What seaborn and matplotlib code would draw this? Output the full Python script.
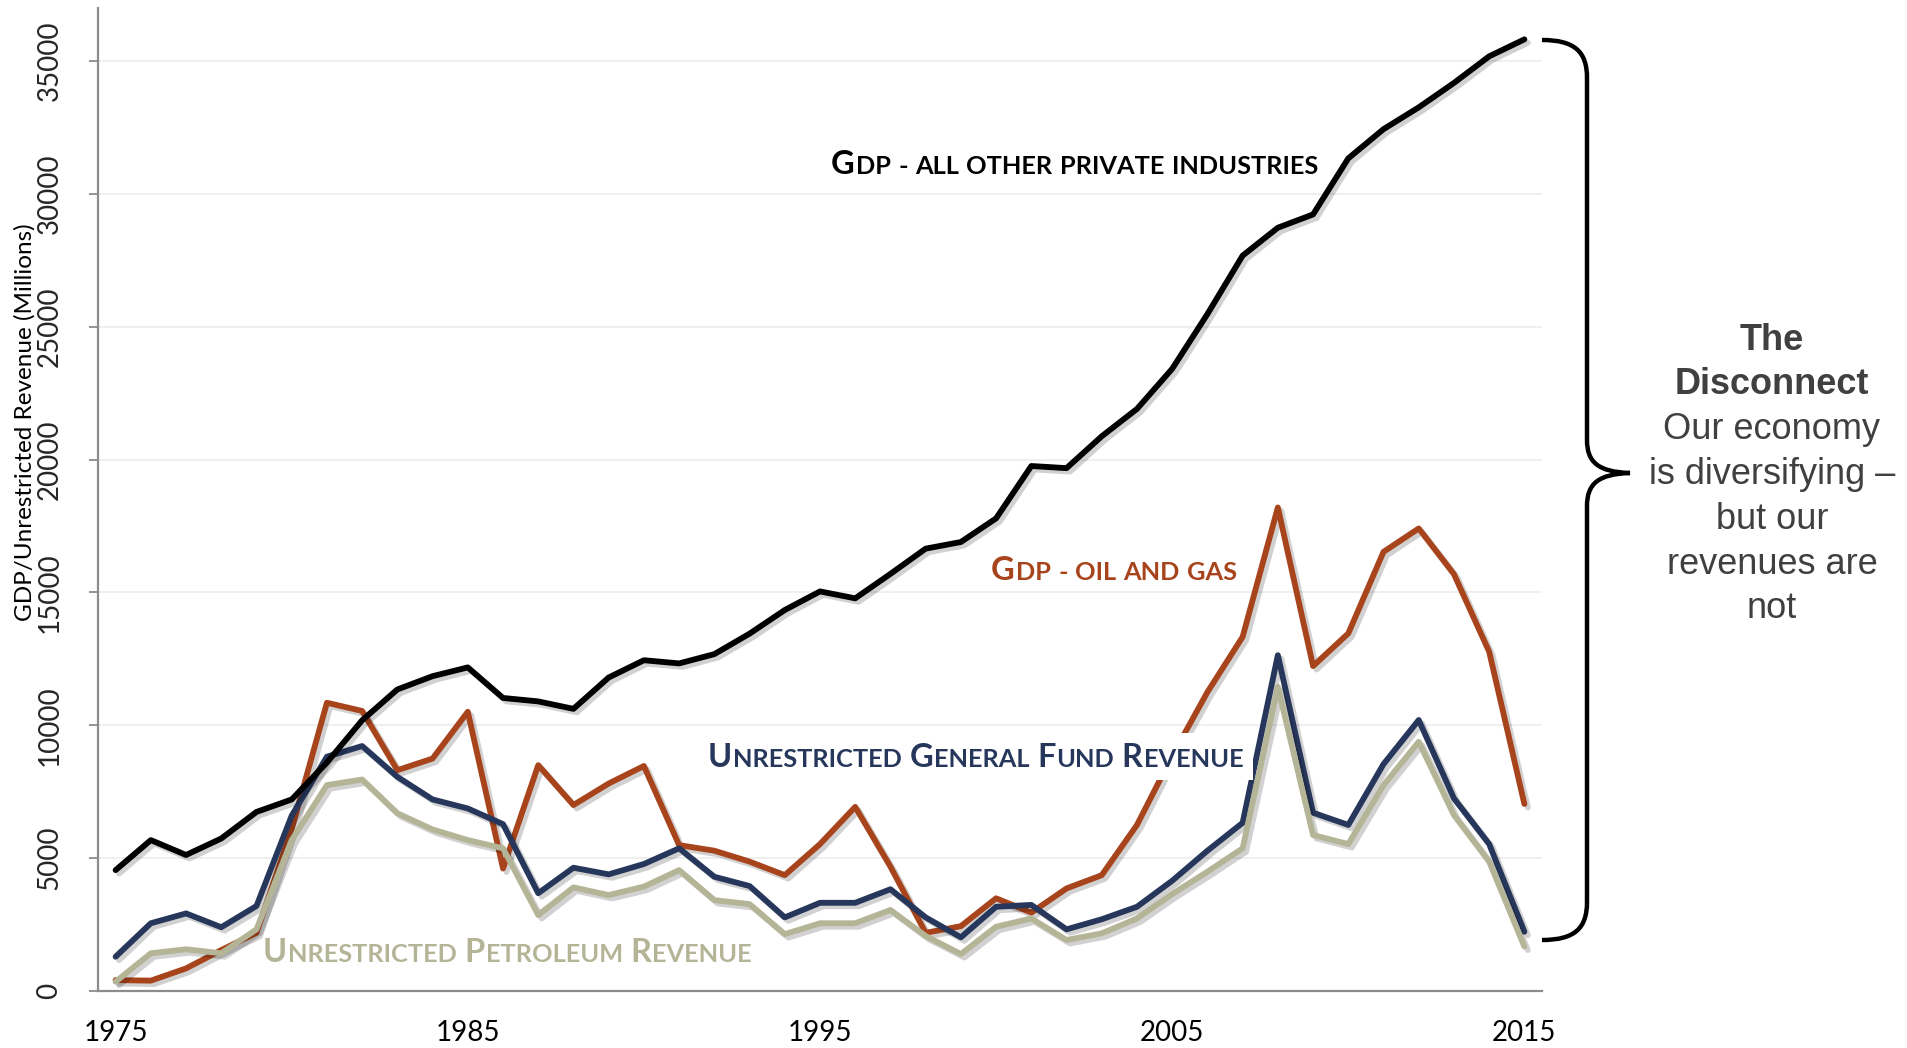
import matplotlib
matplotlib.use("Agg")
import matplotlib.pyplot as plt
import matplotlib.patheffects as pe
from matplotlib.path import Path
from matplotlib.patches import PathPatch, Rectangle
import numpy as np
import pandas as pd
import seaborn as sns

# ---------------- data ----------------
years = list(range(1975, 2016))
gdp_other = [4550, 5680, 5120, 5740, 6740, 7210, 8600, 10190, 11350, 11850,
             12180, 11030, 10900, 10620, 11800, 12450, 12330, 12680, 13450, 14340,
             15040, 14780, 15700, 16650, 16900, 17790, 19760, 19680, 20880, 21910,
             23420, 25480, 27680, 28730, 29230, 31340, 32440, 33260, 34180, 35180,
             35820]
gdp_oil = [410, 390, 850, 1540, 2190, 6100, 10850, 10540, 8310, 8750,
           10510, 4610, 8500, 7000, 7810, 8470, 5490, 5280, 4870, 4360,
           5530, 6930, 4680, 2190, 2440, 3490, 2950, 3860, 4360, 6250,
           8850, 11250, 13330, 18200, 12230, 13460, 16530, 17410, 15690, 12770,
           7040]
unres_gf = [1290, 2550, 2920, 2400, 3200, 6600, 8820, 9220, 8060, 7210,
            6870, 6280, 3680, 4640, 4390, 4780, 5370, 4300, 3950, 2770,
            3320, 3320, 3830, 2770, 2020, 3170, 3240, 2320, 2700, 3170,
            4150, 5280, 6330, 12640, 6710, 6250, 8540, 10200, 7250, 5530,
            2230]
unres_pet = [350, 1420, 1570, 1420, 2320, 5680, 7750, 7960, 6690, 6080,
             5680, 5370, 2860, 3900, 3610, 3930, 4550, 3420, 3270, 2140,
             2550, 2550, 3050, 2070, 1390, 2420, 2730, 1920, 2170, 2730,
             3650, 4490, 5370, 11450, 5870, 5530, 7750, 9380, 6620, 4870,
             1670]

series_names = ["Gdp - oil and gas", "Unrestricted General Fund Revenue",
                "Unrestricted Petroleum Revenue", "Gdp - all other private industries"]
series_values = [gdp_oil, unres_gf, unres_pet, gdp_other]
series_colors = ["#A8441C", "#27375C", "#B4B496", "#000000"]

x_tick_years = [1975, 1985, 1995, 2005, 2015]
y_ticks = [0, 5000, 10000, 15000, 20000, 25000, 30000, 35000]
y_label = "GDP/Unrestricted Revenue (Millions)"
disconnect_lines = ["The", "Disconnect", "Our economy", "is diversifying \u2013",
                    "but our", "revenues are", "not"]
disconnect_bold = [True, True, False, False, False, False, False]

df = pd.concat([pd.DataFrame({"year": years, "value": v, "series": n})
                for n, v in zip(series_names, series_values)], ignore_index=True)

# ---------------- style ----------------
sns.set_style("white")
plt.rcParams["font.family"] = ["Lato", "DejaVu Sans"]

W, H = 1907, 1048
fig = plt.figure(figsize=(W / 100, H / 100), dpi=100)
ax = fig.add_axes([98 / W, (H - 991) / H, (1542 - 98) / W, (991 - 8) / H])

sns.lineplot(data=df, x="year", y="value", hue="series", hue_order=series_names,
             palette=dict(zip(series_names, series_colors)), linewidth=4.2,
             legend=False, ax=ax, errorbar=None)
for ln in ax.get_lines():
    ln.set_solid_joinstyle("round")
    ln.set_solid_capstyle("round")
    ln.set_path_effects([pe.SimpleLineShadow(offset=(2.5, -2.5), shadow_color="#000000",
                                             alpha=0.18), pe.Normal()])

ax.set_xlim(1974.5, 2015.5)
ax.set_ylim(0, 37000)
ax.set_xticks(x_tick_years)
ax.set_xticklabels([str(y) for y in x_tick_years])
ax.set_xticks(np.arange(1974.5, 2016, 1.0), minor=True)
ax.tick_params(axis="x", which="major", length=0, pad=21, labelsize=20, labelcolor="black")
ax.tick_params(axis="x", which="minor", length=7, width=1.3, color="#8C8C8C", direction="out")
ax.set_yticks(y_ticks)
ax.set_yticklabels([str(v) for v in y_ticks])
ax.tick_params(axis="y", which="major", length=6.5, width=1.3, color="#8C8C8C",
               direction="out", pad=19, labelsize=20, labelrotation=90, left=True)
for lbl in ax.get_yticklabels():
    lbl.set_va("center")
ax.grid(axis="y", color="#EEEEEE", linewidth=1.3)
ax.grid(axis="x", visible=False)
ax.set_axisbelow(True)
for s in ["top", "right"]:
    ax.spines[s].set_visible(False)
for s in ["left", "bottom"]:
    ax.spines[s].set_color("#8C8C8C")
    ax.spines[s].set_linewidth(1.6)
ax.set_xlabel("")
ax.set_ylabel(y_label, fontsize=17.5, color="black")
ax.yaxis.set_label_coords((36 - 98) / 1444, (991 - 422) / 983)

# ---------------- small-caps series labels ----------------
renderer = fig.canvas.get_renderer()


def smallcaps_label(text, left_px, baseline_px, color, big, small, white_box=False):
    x = left_px
    yf = 1 - baseline_px / H
    arts = []
    for wi, word in enumerate(text.split(" ")):
        if wi:
            x += small * 100 / 72 * 0.25
        runs = []
        for ch in word:
            isbig = ch.isupper()
            if runs and runs[-1][1] == isbig:
                runs[-1][0] += ch
            else:
                runs.append([ch, isbig])
        for s, isbig in runs:
            t = fig.text(x / W, yf, s.upper(), fontsize=big if isbig else small,
                         fontweight="bold", color=color, ha="left", va="baseline",
                         zorder=6)
            bb = t.get_window_extent(renderer)
            x = bb.x1 + 1
            arts.append(t)
    if white_box:
        bbs = [a.get_window_extent(renderer) for a in arts]
        x0 = min(b.x0 for b in bbs) - 8
        x1 = max(b.x1 for b in bbs) + 10
        y0 = min(b.y0 for b in bbs) - 8
        y1 = max(b.y1 for b in bbs) + 10
        fig.patches.append(Rectangle((x0 / W, y0 / H), (x1 - x0) / W, (y1 - y0) / H,
                                     transform=fig.transFigure, facecolor="white",
                                     edgecolor="none", zorder=5))


BIG, SMALL = 23.5, 18.3
smallcaps_label(series_names[3], 831, 174, series_colors[3], BIG, SMALL)
smallcaps_label(series_names[0], 991, 580, series_colors[0], BIG, SMALL)
smallcaps_label(series_names[1], 708, 767, series_colors[1], BIG, SMALL, white_box=True)
smallcaps_label(series_names[2], 263, 962, "#B4B496", BIG, SMALL)

# ---------------- brace ----------------
def P(x, y):
    return (x / W, 1 - y / H)

verts = [P(1542, 40), P(1575, 40), P(1587, 52), P(1587, 78),
         P(1587, 440),
         P(1587, 462), P(1598, 472), P(1630, 473),
         P(1598, 474), P(1587, 484), P(1587, 506),
         P(1587, 902),
         P(1587, 928), P(1575, 940), P(1542, 940)]
codes = [Path.MOVETO, Path.CURVE4, Path.CURVE4, Path.CURVE4,
         Path.LINETO,
         Path.CURVE4, Path.CURVE4, Path.CURVE4,
         Path.CURVE4, Path.CURVE4, Path.CURVE4,
         Path.LINETO,
         Path.CURVE4, Path.CURVE4, Path.CURVE4]
fig.patches.append(PathPatch(Path(verts, codes), transform=fig.transFigure,
                             facecolor="none", edgecolor="black", linewidth=3.2,
                             zorder=6))

# ---------------- right-hand note ----------------
for i, (line, bold) in enumerate(zip(disconnect_lines, disconnect_bold)):
    fig.text(1772 / W, 1 - (340 + 44.8 * i) / H, line, ha="center", va="center",
             fontsize=26, fontweight="bold" if bold else "normal", color="#404040",
             family=["Liberation Sans", "DejaVu Sans"])

fig.savefig("out.png", dpi=100, facecolor="white")
